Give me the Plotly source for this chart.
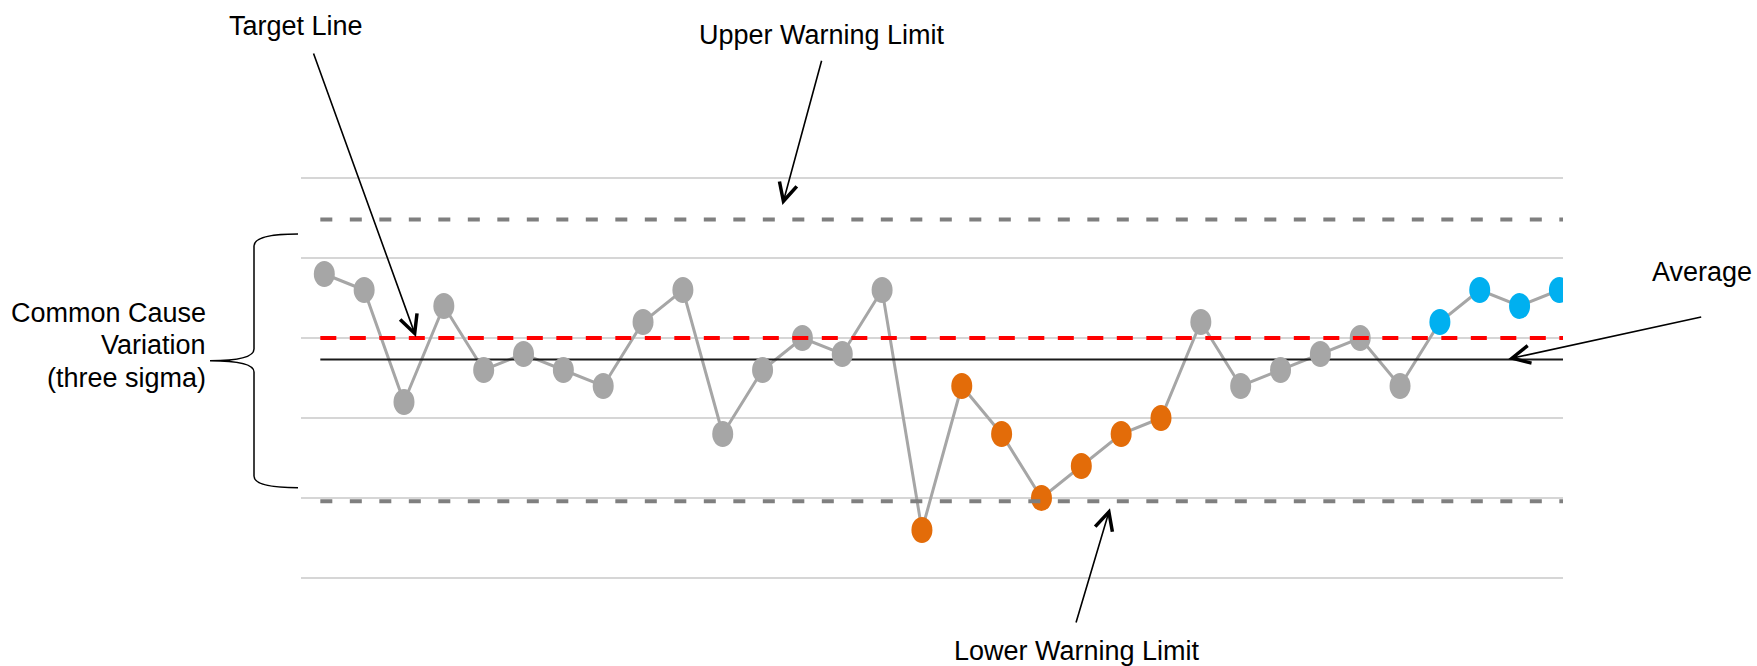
import plotly.graph_objects as go

# run chart data: sample number, measured value and which run each point belongs to
samples = list(range(1, 33))
values = [38, 36, 22, 34, 26, 28, 26, 24, 32, 36, 18, 26, 30, 28, 36,
          6, 24, 18, 10, 14, 18, 20,
          32, 24, 26, 28, 30, 24,
          32, 36, 34, 36]
point_group = ['normal'] * 15 + ['low'] * 7 + ['normal'] * 6 + ['high'] * 4

# reference levels
average = 27.3
target = 30
upper_warning = 44.8
lower_warning = 9.6

grid_ticks = [0, 10, 20, 30, 40, 50]

group_colors = {
    'normal': '#a6a6a6',
    'low': '#e36c09',
    'high': '#00b0f0',
}

# figure geometry (pixels)
W, H = 1757, 666
L, R, T, B = 301, 194, 170, 80
PW, PH = W - L - R, H - T - B


def px(x, y):
    # pixel position on the page -> paper coordinates
    return (x - L) / PW, (T + PH - y) / PH


fig = go.Figure()

# connecting line of the run chart
fig.add_trace(go.Scatter(
    x=samples, y=values, mode='lines',
    line=dict(color='#a6a6a6', width=3),
    hoverinfo='skip', showlegend=False
))

line_x0, line_x1 = 0.9, 33

# average line sits under the markers
fig.add_shape(type='line', xref='x', yref='y', x0=line_x0, x1=line_x1,
              y0=average, y1=average, line=dict(color='#1a1a1a', width=2),
              layer='above')

# oval markers, anchored on the data points
for x, y, g in zip(samples, values, point_group):
    fig.add_shape(type='circle', xref='x', yref='y',
                  xsizemode='pixel', ysizemode='pixel',
                  xanchor=x, yanchor=y, x0=-10.5, x1=10.5, y0=-13, y1=13,
                  fillcolor=group_colors[g], line=dict(width=0),
                  layer='above')

# target and warning limits drawn on top
fig.add_shape(type='line', xref='x', yref='y', x0=line_x0, x1=line_x1,
              y0=target, y1=target,
              line=dict(color='#ff0000', width=4, dash='16px,13.5px'),
              layer='above')
for lim in (upper_warning, lower_warning):
    fig.add_shape(type='line', xref='x', yref='y', x0=line_x0, x1=line_x1,
                  y0=lim, y1=lim,
                  line=dict(color='#7f7f7f', width=4, dash='12px,17.5px'),
                  layer='above')

# curly brace for common cause variation
pts = [(298, 234), (254, 234), (254, 246), (254, 349), (254, 360.7), (210, 360.7),
       (254, 360.7), (254, 372), (254, 476), (254, 487.7), (298, 487.7)]
p = [px(*q) for q in pts]
path = ('M {0[0]},{0[1]} Q {1[0]},{1[1]} {2[0]},{2[1]} L {3[0]},{3[1]} '
        'Q {4[0]},{4[1]} {5[0]},{5[1]} Q {6[0]},{6[1]} {7[0]},{7[1]} '
        'L {8[0]},{8[1]} Q {9[0]},{9[1]} {10[0]},{10[1]}').format(*p)
fig.add_shape(type='path', xref='paper', yref='paper', path=path,
              line=dict(color='black', width=1.5))

text_font = dict(family='Liberation Sans, Arial, sans-serif', size=27, color='black')

labels = [
    ('Target Line', 296, 26, 'center'),
    ('Upper Warning Limit', 822, 35, 'center'),
    ('Average', 1702, 272, 'center'),
    ('Lower Warning Limit', 1077, 651, 'center'),
    ('Common Cause', 208, 313, 'right'),
    ('Variation', 208, 345, 'right'),
    ('(three sigma)', 208, 378, 'right'),
]
for txt, x, y, anchor in labels:
    ax_, ay_ = px(x, y)
    fig.add_annotation(text=txt, x=ax_, y=ay_, xref='paper', yref='paper',
                       xanchor=anchor, yanchor='middle', showarrow=False,
                       font=text_font)

# arrows: (tip, tail) in pixels
arrows = [
    ((416, 337), (313, 52)),
    ((782.4, 205), (822, 59.3)),
    ((1508.3, 359), (1702.7, 316.7)),
    ((1110, 508.3), (1075.6, 624)),
]
for (tx, ty), (sx, sy) in arrows:
    x, y = px(tx, ty)
    fig.add_annotation(text='', x=x, y=y, xref='paper', yref='paper',
                       ax=sx - tx, ay=sy - ty, showarrow=True,
                       arrowhead=5, arrowsize=2.2, arrowwidth=1.6,
                       arrowcolor='black')

fig.update_layout(
    width=W, height=H,
    margin=dict(l=L, r=R, t=T, b=B),
    plot_bgcolor='white',
    paper_bgcolor='white',
    showlegend=False,
    xaxis=dict(range=[0.415, 32.09], showgrid=False, zeroline=False,
               showticklabels=False, ticks='', showline=False),
    yaxis=dict(range=[-1, 51], tickvals=grid_ticks, showgrid=True,
               gridcolor='#d6d6d6', gridwidth=2, zeroline=False,
               showticklabels=False, ticks='', showline=False),
)

# drop the default body margin so the figure sits at the page corner
fig.write_html("out.html", config={'displayModeBar': False},
               post_script="document.body.style.margin='0';")
